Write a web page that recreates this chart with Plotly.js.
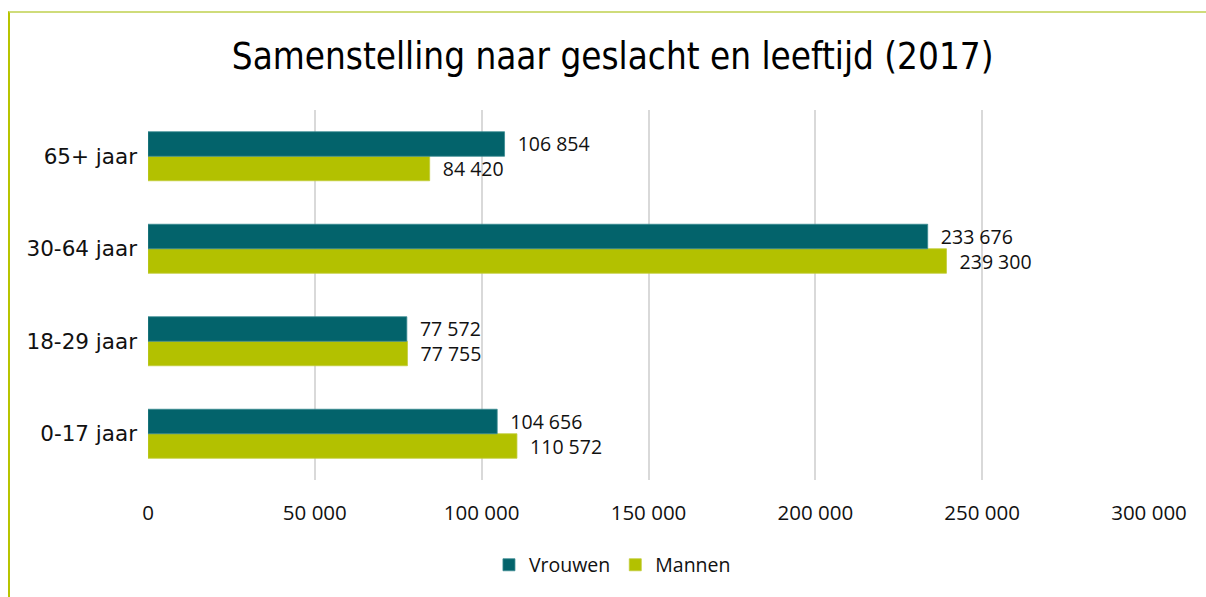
<!DOCTYPE html>
<html>
<head>
<meta charset="utf-8">
<script src="https://cdn.plot.ly/plotly-3.0.1.min.js"></script>
<style>
html,body{margin:0;padding:0;background:#fff;}
#wrap{position:relative;width:1206px;height:597px;overflow:hidden;}
#frame{position:absolute;left:8px;top:11px;width:1300px;height:700px;border-left:2px solid #b8c400;border-top:2px solid #cfdc7a;box-sizing:border-box;pointer-events:none;z-index:5;}
#chart{position:absolute;left:0;top:0;width:1206px;height:597px;}
</style>
</head>
<body>
<div id="wrap"><div id="chart"></div><div id="frame"></div></div>
<script>
var categories = ["0-17 jaar", "18-29 jaar", "30-64 jaar", "65+ jaar"];
var vrouwen = [104656, 77572, 233676, 106854];
var mannen = [110572, 77755, 239300, 84420];
var xTicks = [0, 50000, 100000, 150000, 200000, 250000, 300000];

var labelFont = {family: "Open Sans, sans-serif", size: 19.5, color: "#111"};
var tickFont = {family: "Open Sans, sans-serif", size: 20.5, color: "#111"};
var catFont = {family: "DejaVu Sans, sans-serif", size: 21.5, color: "#111"};
var legendFont = {family: "Open Sans, sans-serif", size: 19.5, color: "#111"};

var traces = [
  {
    type: "bar", orientation: "h", name: "Mannen",
    y: categories, x: mannen,
    marker: {color: "#b3c100", line: {color: "#c2cd3a", width: 0.8}},
    texttemplate: "\u00a0\u00a0%{x:,d}", textposition: "outside",
    constraintext: "none",
    textfont: labelFont, cliponaxis: false, hoverinfo: "x+name"
  },
  {
    type: "bar", orientation: "h", name: "Vrouwen",
    y: categories, x: vrouwen,
    marker: {color: "#03636b", line: {color: "#3a8a90", width: 0.8}},
    texttemplate: "\u00a0\u00a0%{x:,d}", textposition: "outside",
    constraintext: "none",
    textfont: labelFont, cliponaxis: false, hoverinfo: "x+name"
  }
];

var layout = {
  width: 1206, height: 597,
  margin: {l: 148, r: 57, t: 110, b: 117},
  paper_bgcolor: "rgba(0,0,0,0)", plot_bgcolor: "#fff",
  separators: ", ",
  barmode: "group", bargap: 0.47, bargroupgap: 0,
  title: {
    text: "Samenstelling naar geslacht en leeftijd (2017)",
    font: {family: "DejaVu Sans Condensed, DejaVu Sans, sans-serif", size: 36.5, color: "#000"},
    x: 0.508, xanchor: "center", y: 0.905, yanchor: "middle"
  },
  xaxis: {
    range: [0, 300000], tickvals: xTicks, tickformat: ",d",
    showgrid: true, gridcolor: "#d9d9d9", gridwidth: 2,
    zeroline: false, showline: false, ticks: "",
    tickfont: tickFont, ticklabelstandoff: 18, fixedrange: true
  },
  yaxis: {
    showgrid: false, zeroline: false, showline: false, ticks: "",
    tickfont: catFont, ticklabelstandoff: 10, fixedrange: true
  },
  showlegend: true,
  legend: {
    orientation: "h", x: 0.464, xanchor: "center", y: -0.23, yanchor: "middle",
    traceorder: "reversed", font: legendFont, itemwidth: 30
  }
};

Plotly.newPlot("chart", traces, layout, {displayModeBar: false, staticPlot: true});
</script>
</body>
</html>
